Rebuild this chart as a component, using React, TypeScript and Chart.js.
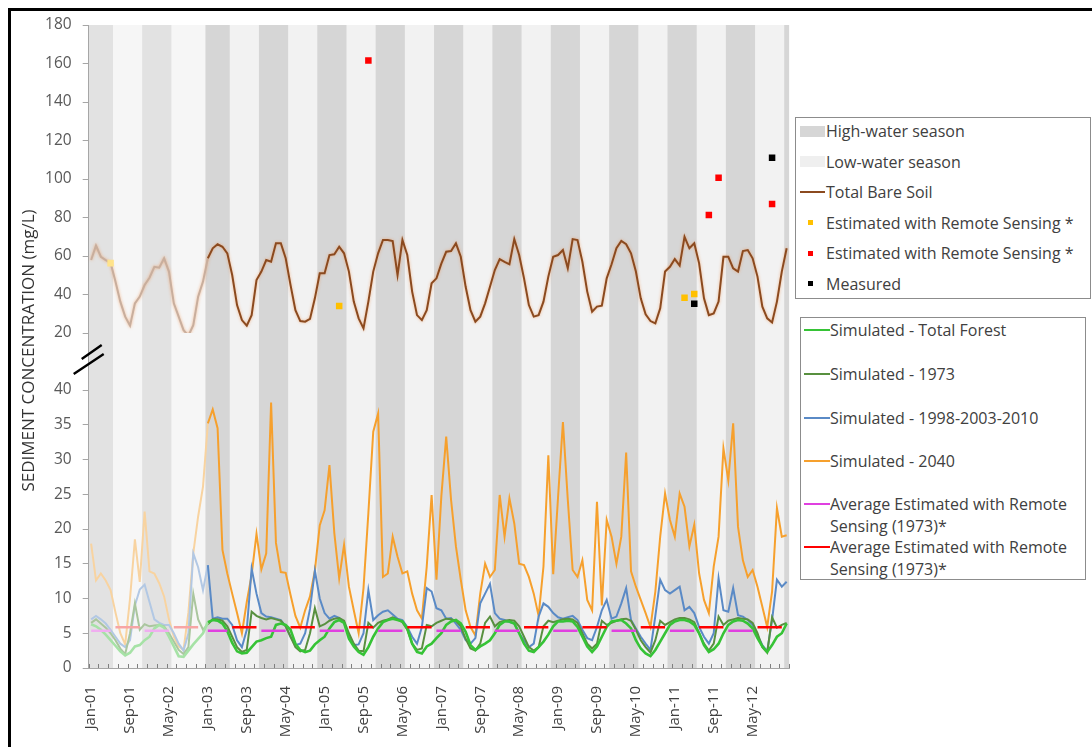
import React, { useEffect, useRef } from 'react';
import { Chart, registerables } from 'chart.js';

Chart.register(...registerables);

const FONT = '"Open Sans", "DejaVu Sans", sans-serif';

// ---------- categories ----------
const monthNames = ['Jan', 'Feb', 'Mar', 'Apr', 'May', 'Jun', 'Jul', 'Aug', 'Sep', 'Oct', 'Nov', 'Dec'];
const yearSuffixes = ['01', '02', '03', '04', '05', '06', '07', '08', '09', '10', '11', '12'];
const categories: string[] = yearSuffixes.flatMap((y) => monthNames.map((m) => `${m}-${y}`));

const xTickLabels = [
  'Jan-01', 'Sep-01', 'May-02', 'Jan-03', 'Sep-03', 'May-04', 'Jan-05', 'Sep-05', 'May-06',
  'Jan-07', 'Sep-07', 'May-08', 'Jan-09', 'Sep-09', 'May-10', 'Jan-11', 'Sep-11', 'May-12',
];
const upperTickValues = [20, 40, 60, 80, 100, 120, 140, 160, 180];
const lowerTickValues = [0, 5, 10, 15, 20, 25, 30, 35, 40];

// spin-up period (drawn faded)
const spinUpFirstSolidMonth = 'Jan-03';

// ---------- seasons ----------
const highWaterStart = ['Jan-01', 'Dec-01', 'Jan-03', 'Dec-03', 'Dec-04', 'Dec-05', 'Dec-06', 'Dec-07', 'Dec-08', 'Dec-09', 'Dec-10', 'Dec-11', 'Dec-12'];
const highWaterEnd = ['May-01', 'May-02', 'May-03', 'May-04', 'May-05', 'May-06', 'May-07', 'May-08', 'May-09', 'May-10', 'May-11', 'May-12', 'Dec-12'];
const lowWaterStart = ['Jun-01', 'Jun-02', 'Jun-03', 'Jun-04', 'Jun-05', 'Jun-06', 'Jun-07', 'Jun-08', 'Jun-09', 'Jun-10', 'Jun-11', 'Jun-12'];
const lowWaterEnd = ['Nov-01', 'Nov-02', 'Nov-03', 'Nov-04', 'Nov-05', 'Nov-06', 'Nov-07', 'Nov-08', 'Nov-09', 'Nov-10', 'Nov-11', 'Nov-12'];
const highSeasonAverage = 5.35; // magenta
const lowSeasonAverage = 5.85; // red

// ---------- series (monthly, Jan-01 .. Dec-12) ----------
const totalBareSoil = [
  57.9, 65.4, 59.6, 57.9, 56.5, 46.7, 36.3, 28.5, 23.8, 35.4, 38.9, 44.9,
  48.7, 54.4, 53.9, 58.8, 51.9, 35.4, 28.5, 21.5, 18.6, 24.1, 38.9, 46.7,
  58.8, 64.0, 66.1, 64.8, 61.4, 50.1, 34.5, 26.7, 23.8, 29.3, 47.5, 51.9,
  57.9, 57.0, 66.6, 66.6, 58.8, 44.9, 31.9, 26.2, 25.9, 27.3, 38.0, 51.0,
  51.0, 60.5, 60.9, 64.8, 61.4, 51.9, 36.3, 27.6, 22.4, 36.3, 51.9, 61.4,
  68.3, 68.3, 67.8, 50.1, 68.3, 60.5, 41.5, 29.3, 26.7, 31.9, 45.8, 48.4,
  56.0, 62.2, 62.6, 66.6, 59.6, 44.0, 31.9, 25.9, 28.5, 35.4, 44.0, 52.7,
  58.4, 57.0, 55.7, 68.8, 60.5, 48.4, 34.5, 28.5, 29.3, 36.3, 49.3, 59.6,
  60.5, 63.1, 53.6, 68.8, 68.3, 57.0, 41.5, 31.1, 33.7, 34.2, 48.4, 55.7,
  64.0, 67.8, 66.1, 61.4, 51.9, 38.0, 29.7, 26.2, 25.0, 32.8, 51.9, 54.4,
  58.4, 55.0, 70.0, 64.0, 66.6, 56.2, 38.0, 29.3, 30.2, 36.3, 59.6, 59.6,
  53.6, 51.9, 62.6, 63.1, 58.8, 49.3, 33.7, 27.6, 25.5, 36.3, 51.9, 64.0,
];

const simulatedTotalForest = [
  6.3, 6.0, 5.5, 4.8, 4.0, 3.2, 2.4, 1.8, 2.2, 3.1, 3.3, 4.0,
  4.5, 5.7, 6.2, 5.8, 4.5, 3.1, 1.7, 1.6, 2.5, 3.4, 4.2, 5.0,
  6.6, 6.9, 6.8, 6.4, 5.3, 3.6, 2.4, 2.1, 2.2, 3.0, 3.8, 4.0,
  4.3, 4.5, 6.2, 6.4, 6.2, 5.5, 3.5, 2.6, 2.3, 2.5, 3.4, 4.0,
  4.5, 5.7, 6.6, 6.9, 6.5, 4.2, 3.1, 2.3, 1.9, 3.0, 4.5, 5.7,
  6.6, 6.9, 7.1, 6.9, 6.7, 5.7, 3.5, 2.3, 2.1, 3.1, 3.5, 4.3,
  5.0, 6.2, 6.7, 6.9, 6.4, 5.2, 3.3, 2.6, 3.1, 3.5, 4.0, 5.0,
  6.2, 6.7, 6.7, 6.4, 5.0, 3.5, 2.5, 2.3, 3.0, 3.8, 4.8, 6.0,
  6.7, 6.7, 6.8, 6.7, 5.9, 4.5, 3.1, 2.3, 3.1, 4.5, 5.9, 6.7,
  6.8, 6.9, 6.4, 5.7, 4.0, 2.8, 2.1, 1.7, 2.6, 3.8, 5.0, 6.2,
  6.7, 6.9, 6.9, 6.7, 6.2, 5.0, 3.3, 2.3, 2.7, 3.5, 5.0, 6.2,
  6.7, 6.9, 6.8, 6.4, 5.7, 4.3, 3.1, 2.3, 3.3, 4.5, 5.0, 6.4,
];

const simulated1973 = [
  6.5, 7.0, 6.4, 5.8, 5.0, 4.0, 2.8, 2.0, 5.0, 9.3, 5.5, 6.3,
  6.0, 6.1, 6.2, 6.0, 5.0, 3.8, 2.6, 2.0, 3.0, 10.7, 7.0, 5.5,
  6.3, 7.0, 7.0, 6.8, 6.0, 4.5, 3.0, 2.3, 2.6, 8.1, 7.5, 7.2,
  7.0, 7.2, 7.0, 6.8, 6.0, 4.5, 3.0, 2.4, 2.6, 5.0, 8.6, 6.0,
  6.3, 6.8, 7.1, 7.2, 6.8, 5.0, 3.5, 2.5, 2.4, 6.5, 5.8, 6.5,
  6.8, 7.0, 7.3, 7.0, 6.6, 5.5, 3.5, 2.6, 2.8, 6.2, 6.0, 6.5,
  6.8, 7.1, 7.0, 6.8, 6.0, 4.2, 2.8, 2.5, 3.5, 6.5, 7.4, 6.0,
  6.6, 6.8, 6.9, 6.8, 6.0, 4.5, 3.0, 2.5, 3.0, 6.0, 6.8, 6.6,
  6.8, 7.0, 7.1, 7.0, 6.5, 5.0, 3.5, 2.8, 3.5, 6.8, 6.2, 6.5,
  6.8, 7.0, 7.1, 6.8, 5.5, 4.0, 3.0, 2.2, 4.0, 6.8, 6.2, 6.6,
  7.0, 7.2, 7.2, 7.0, 6.6, 5.0, 3.5, 2.5, 3.5, 7.4, 6.2, 6.8,
  7.0, 7.2, 7.1, 7.0, 6.5, 5.0, 3.0, 2.2, 7.3, 5.8, 6.2, 6.5,
];

const simulated199820032010 = [
  7.0, 7.5, 7.0, 6.4, 5.5, 4.5, 3.5, 3.0, 4.0, 9.0, 11.3, 12.0,
  9.5, 7.0, 6.5, 6.2, 6.2, 5.0, 3.5, 2.5, 5.0, 16.5, 14.5, 11.2,
  14.8, 7.1, 7.3, 7.1, 7.1, 6.2, 4.0, 3.0, 5.5, 14.3, 10.7, 7.9,
  7.4, 7.3, 7.1, 6.9, 6.0, 4.5, 3.3, 3.5, 5.0, 8.5, 14.0, 10.0,
  7.9, 7.1, 7.5, 7.2, 6.5, 4.5, 3.3, 3.4, 5.0, 11.2, 6.9, 7.6,
  8.1, 8.3, 7.7, 7.1, 6.9, 5.9, 4.5, 3.5, 5.9, 11.5, 11.0, 8.6,
  8.3, 7.1, 7.2, 6.4, 5.5, 4.0, 3.5, 4.3, 9.3, 10.7, 12.1, 7.9,
  7.1, 6.9, 6.6, 6.4, 5.0, 4.0, 3.0, 3.5, 7.4, 9.3, 8.8, 7.9,
  7.3, 7.1, 7.3, 7.5, 6.9, 5.5, 4.3, 4.0, 5.9, 8.3, 9.8, 7.1,
  7.4, 9.3, 11.5, 6.9, 5.7, 4.5, 3.5, 2.6, 7.5, 12.7, 11.2, 10.7,
  11.2, 11.7, 8.3, 8.8, 7.9, 5.9, 4.5, 3.5, 5.0, 12.9, 8.3, 8.1,
  11.5, 7.6, 7.4, 6.9, 6.2, 4.7, 3.3, 2.4, 6.9, 12.7, 11.7, 12.4,
];

const simulated2040 = [
  17.9, 12.6, 13.6, 12.6, 11.2, 8.0, 5.0, 3.4, 10.0, 18.5, 12.4, 22.5,
  13.9, 13.6, 12.2, 10.3, 7.0, 4.5, 3.1, 2.6, 8.0, 16.5, 21.8, 26.1,
  35.2, 37.2, 34.5, 17.0, 13.6, 10.7, 7.9, 5.0, 9.5, 13.4, 19.3, 14.2,
  16.5, 38.2, 18.0, 13.8, 13.7, 10.5, 7.5, 5.8, 8.3, 10.3, 14.0, 20.5,
  22.7, 29.2, 19.4, 12.9, 17.7, 11.7, 8.3, 5.0, 11.5, 22.3, 34.0, 36.6,
  13.1, 13.6, 18.9, 16.0, 13.6, 13.9, 10.7, 8.3, 7.1, 14.6, 24.9, 12.7,
  24.7, 33.3, 24.2, 17.5, 12.7, 8.3, 5.9, 4.7, 10.7, 15.0, 13.1, 14.1,
  24.9, 18.9, 24.4, 20.8, 15.0, 14.8, 13.1, 10.7, 7.5, 14.6, 30.6, 13.5,
  24.6, 35.4, 24.2, 14.1, 13.1, 15.5, 9.8, 8.3, 23.9, 9.0, 21.3, 18.9,
  15.0, 18.9, 31.0, 13.9, 11.7, 9.8, 7.9, 5.9, 11.0, 18.9, 25.1, 21.3,
  18.9, 25.1, 23.2, 17.5, 20.6, 13.6, 9.8, 7.9, 14.6, 18.9, 31.6, 27.0,
  35.2, 20.3, 15.5, 13.1, 14.1, 11.7, 8.8, 5.9, 11.0, 23.0, 18.9, 19.1,
];

// ---------- point observations (upper panel) ----------
const rsYellowMonths = ['May-01', 'Apr-05', 'Mar-11', 'May-11'];
const rsYellowValues = [56.3, 34.0, 38.3, 40.3];
const rsRedMonths = ['Oct-05', 'Aug-11', 'Oct-11', 'Sep-12'];
const rsRedValues = [161.5, 81.3, 100.7, 87.0];
const measuredMonths = ['May-11', 'Sep-12'];
const measuredValues = [35.2, 111.0];

// ---------- styling ----------
const AXIS = '#a6a6a6';
const C = {
  high: '#d6d6d6', low: '#f2f2f2', highFaded: '#e2e2e2', lowFaded: '#f6f6f6',
  brown: '#8b4a1f', brownFaded: '#c8ae9d',
  orange: '#f6a02d', orangeFaded: '#f8d3a0',
  blue: '#5a8ac6', blueFaded: '#b2c8e4',
  olive: '#58903f', oliveFaded: '#aac69e',
  green: '#36c336', greenFaded: '#a6e2a6',
  red: '#ff0000', redFaded: '#f7a5a5',
  magenta: '#e040e0', magentaFaded: '#f0aef0',
  yellow: '#ffc000', yellowFaded: '#ffe38a',
  black: '#000000',
};

const idx = (label: string) => categories.indexOf(label);
const spinUpCount = idx(spinUpFirstSolidMonth);
const inPeriods = (i: number, starts: string[], ends: string[]) =>
  starts.some((s, k) => i >= idx(s) && i <= idx(ends[k]));
const magentaData = categories.map((_, i) => (inPeriods(i, highWaterStart, highWaterEnd) ? highSeasonAverage : null));
const redData = categories.map((_, i) => (inPeriods(i, lowWaterStart, lowWaterEnd) ? lowSeasonAverage : null));

const fadedSegment = (faded: string) => ({
  borderColor: (c: any) => (c.p0DataIndex < spinUpCount ? faded : undefined),
});

const lineDs = (label: string, data: any[], color: string, faded: string, width: number, axis: string) => ({
  type: 'line',
  label,
  data,
  xAxisID: 'x',
  yAxisID: axis,
  borderColor: color,
  backgroundColor: color,
  borderWidth: width,
  pointRadius: 0,
  tension: 0,
  spanGaps: false,
  fill: false,
  segment: fadedSegment(faded),
});

const pointDs = (label: string, months: string[], values: number[], color: string, faded: string) => ({
  type: 'line',
  label,
  data: months.map((m, k) => ({ x: m, y: values[k] })),
  xAxisID: 'x',
  yAxisID: 'yTop',
  showLine: false,
  pointStyle: 'rect',
  pointRadius: 4.6,
  pointBorderWidth: 0,
  pointBackgroundColor: (c: any) => (idx(months[c.dataIndex]) < spinUpCount ? faded : color),
  pointBorderColor: (c: any) => (idx(months[c.dataIndex]) < spinUpCount ? faded : color),
});

const decorPlugin = {
  id: 'decor',
  beforeDraw(chart: any) {
    const { ctx, chartArea, scales } = chart;
    const { left, right, top, bottom } = chartArea;
    const x = scales.x;
    const half = (x.getPixelForValue(1) - x.getPixelForValue(0)) / 2;
    const edge = (label: string, side: number) => x.getPixelForValue(idx(label)) + side * half;
    const spinEnd = x.getPixelForValue(spinUpCount) - half;
    ctx.save();
    ctx.fillStyle = C.lowFaded;
    ctx.fillRect(left, top, spinEnd - left, bottom - top);
    ctx.fillStyle = C.low;
    ctx.fillRect(spinEnd, top, right - spinEnd, bottom - top);
    highWaterStart.forEach((s, k) => {
      const x0 = edge(s, -1);
      const x1 = edge(highWaterEnd[k], 1);
      ctx.fillStyle = x1 <= spinEnd + 0.5 ? C.highFaded : C.high;
      ctx.fillRect(x0, top, x1 - x0, bottom - top);
    });
    ctx.restore();
  },
  beforeDatasetDraw(chart: any, args: any) {
    if (chart.data.datasets[args.index].label === 'Total Bare Soil') {
      chart.ctx.save();
      chart.ctx.shadowColor = 'rgba(240,140,70,0.6)';
      chart.ctx.shadowBlur = 3;
    }
  },
  afterDatasetDraw(chart: any, args: any) {
    if (chart.data.datasets[args.index].label === 'Total Bare Soil') {
      chart.ctx.restore();
    }
  },
  afterDraw(chart: any) {
    const { ctx, chartArea, scales } = chart;
    const { left, top, bottom } = chartArea;
    const x = scales.x;
    const half = (x.getPixelForValue(1) - x.getPixelForValue(0)) / 2;
    ctx.save();
    // minor tick marks (every two months, inside)
    ctx.strokeStyle = '#7f7f7f';
    ctx.lineWidth = 1;
    ctx.beginPath();
    for (let i = 0; i <= categories.length; i += 2) {
      const px = Math.round(left + i * 2 * half) + 0.5;
      ctx.moveTo(px, bottom);
      ctx.lineTo(px, bottom - 4);
    }
    ctx.stroke();
    // axis break marks
    const gapTop = scales.yGap.top;
    ctx.strokeStyle = '#000';
    ctx.lineWidth = 2.4;
    ctx.beginPath();
    ctx.moveTo(left - 7, gapTop + 26);
    ctx.lineTo(left + 13, gapTop + 12);
    ctx.moveTo(left - 15, gapTop + 41);
    ctx.lineTo(left + 15, gapTop + 21);
    ctx.stroke();
    // y title
    ctx.translate(left - 60, (top + bottom) / 2 + 4);
    ctx.rotate(-Math.PI / 2);
    ctx.textAlign = 'center';
    ctx.textBaseline = 'middle';
    ctx.fillStyle = '#333333';
    ctx.font = `17px ${FONT}`;
    ctx.fillText('SEDIMENT CONCENTRATION (mg/L)', 0, 0);
    ctx.restore();
  },
};

const yAxis = (weight: number, stackWeight: number, min: number, max: number, ticks: number[] | null) => ({
  type: 'linear',
  position: 'left',
  stack: 'panels',
  stackWeight,
  weight,
  min,
  max,
  afterBuildTicks: (s: any) => {
    if (ticks) s.ticks = ticks.map((v) => ({ value: v }));
  },
  afterFit: (s: any) => {
    s.width = 60;
    s.paddingTop = 0;
    s.paddingBottom = 0;
  },
  grid: ticks
    ? { display: true, drawOnChartArea: false, drawTicks: true, tickLength: 6, color: AXIS }
    : { display: false },
  border: { display: true, color: AXIS, width: 1 },
  ticks: ticks
    ? { display: true, autoSkip: false, padding: 11, color: '#595959', font: { family: FONT, size: 15.5 } }
    : { display: false },
});

function buildConfig(): any {
  return {
    data: {
      labels: categories,
      datasets: [
        lineDs('Average Estimated with Remote Sensing (1973)* low', redData, C.red, C.redFaded, 2.5, 'yBot'),
        lineDs('Average Estimated with Remote Sensing (1973)* high', magentaData, C.magenta, C.magentaFaded, 2.5, 'yBot'),
        pointDs('Measured', measuredMonths, measuredValues, C.black, C.black),
        pointDs('Estimated with Remote Sensing * (red)', rsRedMonths, rsRedValues, C.red, C.redFaded),
        pointDs('Estimated with Remote Sensing * (yellow)', rsYellowMonths, rsYellowValues, C.yellow, C.yellowFaded),
        lineDs('Total Bare Soil', totalBareSoil, C.brown, C.brownFaded, 2, 'yTop'),
        lineDs('Simulated - Total Forest', simulatedTotalForest, C.green, C.greenFaded, 2.6, 'yBot'),
        lineDs('Simulated - 1973', simulated1973, C.olive, C.oliveFaded, 2, 'yBot'),
        lineDs('Simulated - 1998-2003-2010', simulated199820032010, C.blue, C.blueFaded, 2, 'yBot'),
        lineDs('Simulated - 2040', simulated2040, C.orange, C.orangeFaded, 2, 'yBot'),
      ],
    },
    options: {
      responsive: true,
      maintainAspectRatio: false,
      animation: false,
      devicePixelRatio: 1,
      events: [],
      layout: { padding: { left: 17.7, right: 6.9, top: 14, bottom: 9 } },
      plugins: { legend: { display: false }, tooltip: { enabled: false }, title: { display: false } },
      scales: {
        x: {
          type: 'category',
          labels: categories,
          offset: true,
          grid: { display: false },
          border: { display: true, color: AXIS, width: 1 },
          ticks: {
            autoSkip: false,
            minRotation: 90,
            maxRotation: 90,
            padding: 10,
            color: '#404040',
            font: { family: FONT, size: 15 },
            callback: (_v: any, i: number) => (xTickLabels.includes(categories[i]) ? categories[i] : ''),
          },
          afterFit: (s: any) => {
            s.height = 70;
            s.paddingLeft = 0;
            s.paddingRight = 0;
          },
        },
        yBot: yAxis(1, 278, 0, 40, lowerTickValues),
        yGap: yAxis(2, 57, 0, 1, null),
        yTop: yAxis(3, 308, 20, 180, upperTickValues),
      },
    },
    plugins: [decorPlugin],
  };
}

// ---------- legends ----------
const legendTopItems = [
  { label: 'High-water season', kind: 'rect', color: C.high },
  { label: 'Low-water season', kind: 'rect', color: '#efefef' },
  { label: 'Total Bare Soil', kind: 'line', color: C.brown },
  { label: 'Estimated with Remote Sensing *', kind: 'square', color: C.yellow },
  { label: 'Estimated with Remote Sensing *', kind: 'square', color: C.red },
  { label: 'Measured', kind: 'square', color: C.black },
];
const legendTopRowCenters = [13, 43.5, 74, 104.5, 135, 165.5];

const legendBottomItems = [
  { lines: ['Simulated - Total Forest'], color: C.green },
  { lines: ['Simulated - 1973'], color: C.olive },
  { lines: ['Simulated - 1998-2003-2010'], color: C.blue },
  { lines: ['Simulated - 2040'], color: C.orange },
  { lines: ['Average Estimated with Remote', 'Sensing (1973)*'], color: C.magenta },
  { lines: ['Average Estimated with Remote', 'Sensing (1973)*'], color: C.red },
];
const legendBottomRowCenters = [12, 56, 100, 143, 186, 229];

const textStyle: any = {
  position: 'absolute',
  fontFamily: FONT,
  fontSize: 16,
  color: '#404040',
  whiteSpace: 'nowrap',
  lineHeight: '22px',
};

function LegendTop() {
  return (
    <div
      style={{
        position: 'absolute', left: 784, top: 106, width: 296, height: 182,
        boxSizing: 'border-box', border: '1px solid #8c8c8c', background: '#fff',
      }}
    >
      {legendTopItems.map((it, k) => {
        const cy = legendTopRowCenters[k];
        let sw: any = null;
        if (it.kind === 'rect') {
          sw = <div style={{ position: 'absolute', left: 4, top: cy - 5.5, width: 25, height: 11, background: it.color }} />;
        } else if (it.kind === 'line') {
          sw = <div style={{ position: 'absolute', left: 4, top: cy - 1, width: 25, height: 2, background: it.color }} />;
        } else {
          sw = <div style={{ position: 'absolute', left: 12, top: cy - 2.5, width: 5, height: 5, background: it.color }} />;
        }
        return (
          <React.Fragment key={k}>
            {sw}
            <div style={{ ...textStyle, left: 30, top: cy - 11 }}>{it.label}</div>
          </React.Fragment>
        );
      })}
    </div>
  );
}

function LegendBottom() {
  return (
    <div
      style={{
        position: 'absolute', left: 789, top: 306, width: 286, height: 263,
        boxSizing: 'border-box', border: '1px solid #8c8c8c', background: '#fff',
      }}
    >
      {legendBottomItems.map((it, k) => {
        const cy = legendBottomRowCenters[k];
        return (
          <React.Fragment key={k}>
            <div style={{ position: 'absolute', left: 3, top: cy - 1, width: 26, height: 2, background: it.color }} />
            <div style={{ ...textStyle, left: 29, top: cy - 11 }}>
              {it.lines.map((l, j) => (
                <div key={j}>{l}</div>
              ))}
            </div>
          </React.Fragment>
        );
      })}
    </div>
  );
}

export default function App() {
  const canvasRef = useRef<HTMLCanvasElement | null>(null);
  useEffect(() => {
    document.documentElement.style.overflow = 'hidden';
    const chart = new Chart(canvasRef.current as HTMLCanvasElement, buildConfig());
    return () => chart.destroy();
  }, []);
  return (
    <div
      style={{
        position: 'absolute', left: 8, top: 8, width: 1084, height: 739, boxSizing: 'border-box',
        borderTop: '3px solid #000', borderLeft: '3px solid #000', overflow: 'hidden', background: '#fff',
      }}
    >
      <div style={{ position: 'absolute', left: 0, top: 0, width: 785, height: 736 }}>
        <canvas ref={canvasRef} />
      </div>
      <LegendTop />
      <LegendBottom />
    </div>
  );
}
